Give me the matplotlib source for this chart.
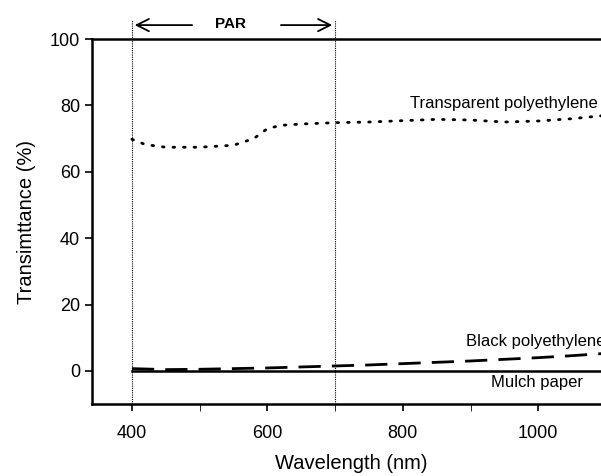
import numpy as np
import matplotlib.pyplot as plt

plt.rcParams['font.family'] = ['Liberation Sans', 'DejaVu Sans']

# Transparent polyethylene (dotted)
wl_trans = [400, 420, 450, 500, 550, 580, 600, 620, 650, 700, 750, 800, 850, 900, 950, 1000, 1050, 1100]
tr_trans = [69.8, 68.2, 67.4, 67.4, 68.0, 70.0, 73.0, 74.0, 74.4, 74.8, 75.0, 75.4, 75.8, 75.6, 75.0, 75.3, 76.0, 77.0]

# Black polyethylene (dashed)
wl_black = [400, 450, 500, 550, 600, 650, 700, 750, 800, 850, 900, 950, 1000, 1050, 1100]
tr_black = [0.7, 0.4, 0.5, 0.7, 0.9, 1.2, 1.5, 1.8, 2.2, 2.6, 3.0, 3.5, 4.0, 4.6, 5.3]

# Mulch paper (solid)
wl_mulch = [400, 1100]
tr_mulch = [0.0, 0.0]

fig = plt.figure(figsize=(6.01, 4.76), dpi=100)
ax = fig.add_axes([0.153, 0.151, 0.862, 0.767])

ax.plot(wl_mulch, tr_mulch, color='black', lw=1.8)
ax.plot(wl_black, tr_black, color='black', lw=2, dashes=(8, 4))
ax.plot(wl_trans, tr_trans, color='black', lw=2, linestyle=(0, (0.6, 3.2)),
        dash_capstyle='round')

# PAR boundaries
for x in (400, 700):
    ax.plot([x, x], [-10, 105.8], color='black', lw=0.8, linestyle=(0, (1, 1)),
            clip_on=False)

ax.annotate('', xy=(400, 104.2), xytext=(493, 104.2), annotation_clip=False,
            arrowprops=dict(arrowstyle='->', lw=1.3, color='black',
                            mutation_scale=22))
ax.annotate('', xy=(700, 104.2), xytext=(616, 104.2), annotation_clip=False,
            arrowprops=dict(arrowstyle='->', lw=1.3, color='black',
                            mutation_scale=22))
ax.text(546, 104.4, 'PAR', ha='center', va='center', fontsize=11,
        fontweight='bold')

ax.text(1088, 80.7, 'Transparent polyethylene', ha='right', va='center', fontsize=12)
ax.text(893, 9, 'Black polyethylene', ha='left', va='center', fontsize=12)
ax.text(1066, -3.6, 'Mulch paper', ha='right', va='center', fontsize=12)

ax.set_xlim(341, 1106)
ax.set_ylim(-10, 100)
ax.set_xticks([400, 600, 800, 1000])
ax.set_xticks([500, 700, 900, 1100], minor=True)
ax.set_yticks([0, 20, 40, 60, 80, 100])
ax.tick_params(axis='both', direction='out', width=1.2, labelsize=13)
ax.tick_params(axis='x', which='major', length=5, pad=10)
ax.tick_params(axis='x', which='minor', length=5)
ax.tick_params(axis='y', length=5)
for s in ax.spines.values():
    s.set_linewidth(1.8)

ax.set_xlabel('Wavelength (nm)', fontsize=14.5, labelpad=9)
ax.set_ylabel('Transimttance (%)', fontsize=14.5, labelpad=10)

fig.savefig('out.png', dpi=100)
